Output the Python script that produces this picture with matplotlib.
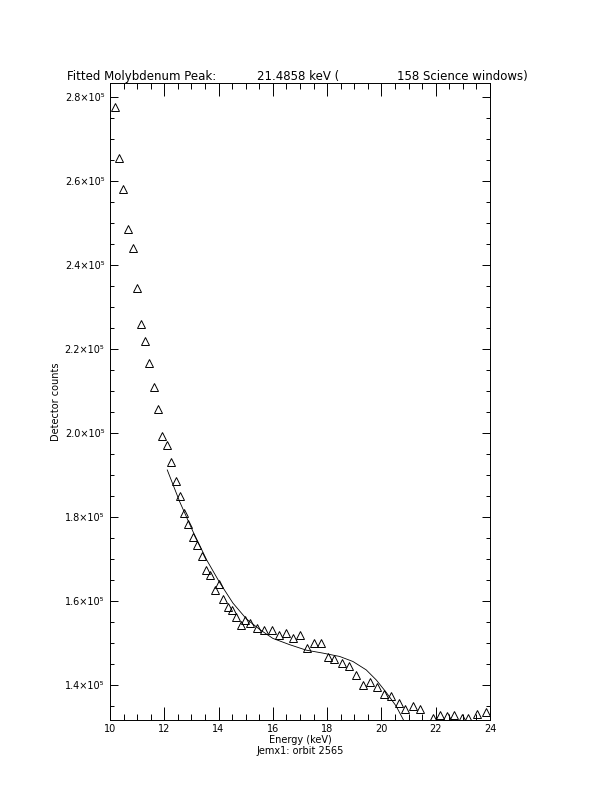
import matplotlib
matplotlib.use("Agg")
import matplotlib.pyplot as plt
from matplotlib.ticker import MultipleLocator, FuncFormatter

# Measured spectrum (energy in keV, counts)
energy = [10.18, 10.34, 10.49, 10.66, 10.84, 10.98, 11.14, 11.29, 11.45, 11.62,
          11.78, 11.92, 12.09, 12.24, 12.42, 12.57, 12.72, 12.88, 13.06, 13.21,
          13.39, 13.53, 13.69, 13.85, 14.02, 14.17, 14.33, 14.49, 14.66, 14.82,
          14.98, 15.17, 15.42, 15.67, 15.95, 16.22, 16.47, 16.74, 16.99, 17.24,
          17.50, 17.77, 18.03, 18.27, 18.54, 18.79, 19.07, 19.31, 19.59, 19.84,
          20.11, 20.36, 20.63, 20.88, 21.15, 21.42, 21.68, 21.89, 22.17, 22.42,
          22.68, 22.95, 23.20, 23.52, 23.85]
counts = [2.776, 2.655, 2.581, 2.485, 2.440, 2.345, 2.260, 2.219, 2.167, 2.110,
          2.056, 1.994, 1.971, 1.930, 1.885, 1.851, 1.810, 1.783, 1.753, 1.734,
          1.708, 1.674, 1.663, 1.626, 1.640, 1.605, 1.586, 1.579, 1.561, 1.544,
          1.555, 1.548, 1.535, 1.531, 1.532, 1.519, 1.525, 1.513, 1.518, 1.488,
          1.501, 1.501, 1.467, 1.463, 1.453, 1.446, 1.423, 1.401, 1.408, 1.396,
          1.379, 1.374, 1.356, 1.342, 1.350, 1.344, 1.307, 1.321, 1.329, 1.327,
          1.329, 1.322, 1.321, 1.330, 1.336]
counts = [c * 1e5 for c in counts]

# Fitted model curve
fit_energy = [12.11, 12.57, 13.06, 13.56, 14.04, 14.53, 15.03, 15.52, 16.00,
              16.62, 17.23, 17.84, 18.46, 18.95, 19.44, 19.81, 20.17, 20.54,
              20.81, 20.96]
fit_counts = [1.912, 1.836, 1.765, 1.698, 1.644, 1.595, 1.557, 1.532, 1.511,
              1.496, 1.483, 1.476, 1.468, 1.456, 1.436, 1.412, 1.383, 1.350,
              1.317, 1.298]
fit_counts = [c * 1e5 for c in fit_counts]

plt.rcParams["font.family"] = "DejaVu Sans"

fig = plt.figure(figsize=(6.12, 7.92), dpi=100)
ax = fig.add_axes([110 / 612, 1 - 720 / 792, 380 / 612, 637 / 792])

ax.plot(energy, counts, ls="none", marker="^", ms=6, mfc="none", mec="k",
        mew=0.7)
ax.plot(fit_energy, fit_counts, color="k", lw=0.6)

ax.set_xlim(10, 24)
ax.set_ylim(1.3167e5, 2.8333e5)

ax.xaxis.set_major_locator(MultipleLocator(2))
ax.xaxis.set_minor_locator(MultipleLocator(0.5))
ax.yaxis.set_major_locator(MultipleLocator(0.2e5))
ax.yaxis.set_minor_locator(MultipleLocator(0.05e5))
ax.yaxis.set_major_formatter(FuncFormatter(lambda v, p: f"{v / 1e5:.1f}\u00d710\u2075"))

ax.tick_params(which="both", direction="in", top=True, right=True, width=0.7,
               labelsize=7, colors="k")
ax.tick_params(axis="x", which="major", length=9.2, pad=3)
ax.tick_params(axis="x", which="minor", length=4.6)
ax.tick_params(axis="y", which="major", length=5.5, pad=4)
ax.tick_params(axis="y", which="minor", length=2.7)
for s in ax.spines.values():
    s.set_linewidth(0.7)

ax.set_ylabel("Detector counts", fontsize=7, labelpad=3)

fig.text(300 / 612, 1 - 740 / 792, "Energy (keV)", ha="center", va="center", fontsize=7)
fig.text(300 / 612, 1 - 751 / 792, "Jemx1: orbit 2565", ha="center", va="center", fontsize=7)

title_y = 1 - 80 / 792
fig.text(67 / 612, title_y, "Fitted Molybdenum Peak:", fontsize=8.5, va="baseline")
fig.text(257 / 612, title_y, "21.4858 keV (", fontsize=8.5, va="baseline")
fig.text(397 / 612, title_y, "158 Science windows)", fontsize=8.5, va="baseline")

fig.savefig("out.png", dpi=100)
